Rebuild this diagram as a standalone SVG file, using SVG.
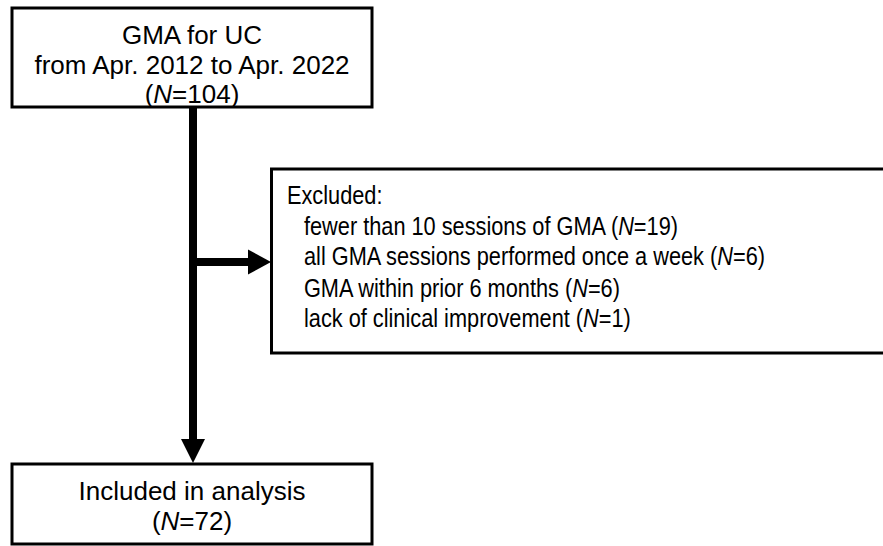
<svg xmlns="http://www.w3.org/2000/svg" width="883" height="546" viewBox="0 0 883 546">
<style>
.box{fill:#fff;stroke:#000;stroke-width:3}
text{font-family:"Liberation Sans",Arial,sans-serif;font-size:26px;fill:#000}
.c{text-anchor:middle}
.ex{font-size:25px}
.line{stroke:#000;stroke-width:8;fill:none}
</style>
<g id="connectors">
<line class="line" x1="193" y1="107" x2="193" y2="440"/>
<path d="M181,439 L205,439 L193,463 Z" fill="#000"/>
<line class="line" x1="193" y1="262" x2="250" y2="262"/>
<path d="M248,249.5 L271,262 L248,274.5 Z" fill="#000"/>
</g>
<g id="node-start">
<rect class="box" x="12" y="8" width="360" height="99"/>
<text class="c" x="192" y="44">GMA for UC</text>
<text class="c" x="192" y="74">from Apr. 2012 to Apr. 2022</text>
<text class="c" x="192" y="103">(<tspan font-style="italic">N</tspan>=104)</text>
</g>
<g id="node-excluded">
<rect class="box" x="271.5" y="169" width="620" height="184"/>
<g transform="translate(287,0) scale(0.87,1)">
<text class="ex" x="0" y="204">Excluded:</text>
<text class="ex" x="19.5" y="235">fewer than 10 sessions of GMA (<tspan font-style="italic">N</tspan>=19)</text>
<text class="ex" x="19.5" y="265">all GMA sessions performed once a week (<tspan font-style="italic">N</tspan>=6)</text>
<text class="ex" x="19.5" y="297">GMA within prior 6 months (<tspan font-style="italic">N</tspan>=6)</text>
<text class="ex" x="19.5" y="327">lack of clinical improvement (<tspan font-style="italic">N</tspan>=1)</text>
</g>
</g>
<g id="node-included">
<rect class="box" x="12" y="464" width="360" height="80"/>
<text class="c" x="192" y="500">Included in analysis</text>
<text class="c" x="192" y="530">(<tspan font-style="italic">N</tspan>=72)</text>
</g>
</svg>
